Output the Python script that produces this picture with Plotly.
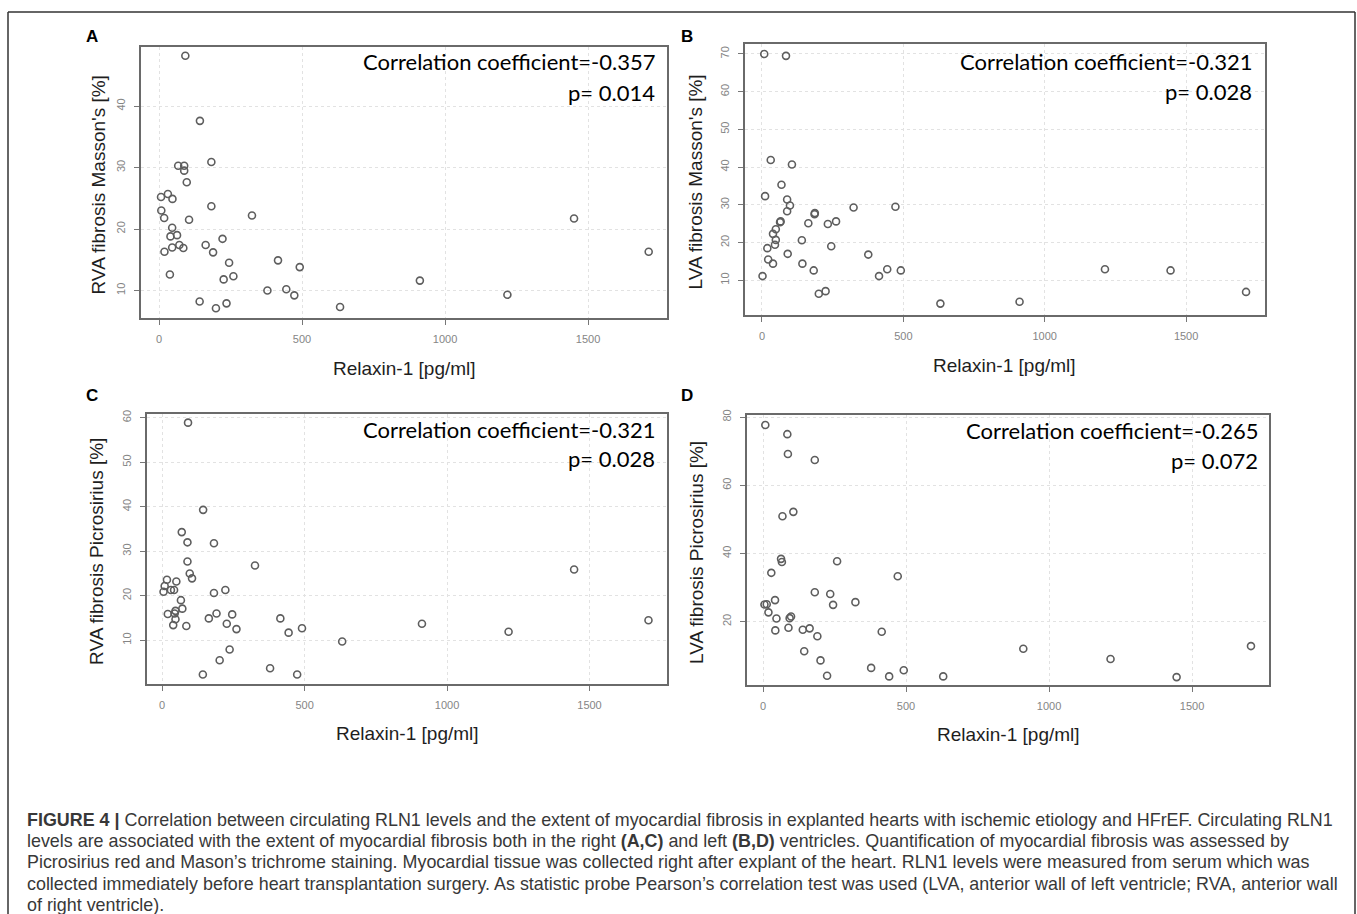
import plotly.graph_objects as go

W, H = 1357, 914

# ---------------- data ----------------
# Panel A: RVA fibrosis Masson's vs Relaxin-1
relaxin_a = [92, 143, 183, 67, 88, 88, 97, 7, 31, 47, 183, 8, 18, 105, 325, 1451, 46, 40, 63, 222,
             46, 71, 85, 19, 163, 189, 1712, 245, 416, 492, 38, 260, 226, 912, 379, 445, 473, 1218,
             142, 236, 199, 633]
rva_masson = [48.2, 37.6, 30.9, 30.3, 30.3, 29.5, 27.6, 25.2, 25.7, 24.9, 23.7, 23.0, 21.8, 21.5, 22.2,
              21.7, 20.2, 18.8, 19.0, 18.4, 17.0, 17.4, 16.9, 16.3, 17.4, 16.2, 16.3, 14.5, 14.9, 13.8,
              12.6, 12.3, 11.8, 11.6, 10.0, 10.2, 9.2, 9.3, 8.2, 7.9, 7.1, 7.3]

# Panel B: LVA fibrosis Masson's vs Relaxin-1
relaxin_b = [8, 85, 31, 106, 69, 11, 89, 99, 89, 324, 472, 187, 186, 66, 64, 262, 233, 164, 49, 39,
             49, 141, 46, 245, 19, 91, 376, 22, 39, 143, 183, 443, 491, 1213, 1445, 414, 2, 225, 201,
             1712, 911, 631]
lva_masson = [70.0, 69.5, 41.9, 40.7, 35.3, 32.3, 31.4, 29.8, 28.3, 29.3, 29.5, 27.8, 27.5, 25.6, 25.4,
              25.6, 24.9, 25.1, 23.5, 22.3, 20.7, 20.6, 19.4, 19.0, 18.5, 17.0, 16.8, 15.5, 14.4, 14.4,
              12.6, 12.9, 12.6, 12.9, 12.6, 11.1, 11.1, 7.1, 6.4, 6.9, 4.3, 3.8]

# Panel C: RVA fibrosis Picrosirius vs Relaxin-1
relaxin_c = [91, 144, 69, 89, 182, 89, 326, 1446, 97, 105, 17, 50, 9, 31, 42, 5, 222, 182, 66, 71,
             47, 44, 20, 191, 246, 164, 415, 1707, 47, 227, 912, 39, 85, 261, 491, 444, 1216, 632,
             237, 202, 379, 143, 474]
rva_picro = [58.9, 39.3, 34.3, 32.0, 31.8, 27.7, 26.8, 25.9, 25.0, 23.9, 23.6, 23.2, 22.2, 21.3, 21.3,
             20.9, 21.3, 20.6, 19.0, 17.1, 16.6, 16.0, 15.9, 16.0, 15.8, 14.9, 14.9, 14.5, 14.7, 13.7,
             13.7, 13.4, 13.2, 12.5, 12.7, 11.7, 11.9, 9.7, 7.9, 5.5, 3.7, 2.3, 2.3]

# Panel D: LVA fibrosis Picrosirius vs Relaxin-1
relaxin_d = [8, 85, 87, 181, 106, 68, 63, 66, 259, 29, 471, 181, 235, 323, 245, 13, 5, 42, 19, 47,
             98, 93, 89, 43, 139, 163, 415, 190, 144, 910, 1706, 1215, 201, 378, 492, 224, 441, 630,
             1446]
lva_picro = [77.7, 75.0, 69.2, 67.4, 52.2, 50.9, 38.4, 37.5, 37.7, 34.3, 33.3, 28.6, 28.1, 25.7, 24.9,
             25.1, 25.0, 26.3, 22.7, 20.9, 21.5, 21.0, 18.2, 17.4, 17.6, 18.0, 17.0, 15.7, 11.3, 12.0,
             12.8, 9.0, 8.6, 6.4, 5.7, 4.1, 3.9, 3.9, 3.7]

x_ticks = [0, 500, 1000, 1500]
y_ticks_a = [10, 20, 30, 40]
y_ticks_b = [10, 20, 30, 40, 50, 60, 70]
y_ticks_c = [10, 20, 30, 40, 50, 60]
y_ticks_d = [20, 40, 60, 80]

letters = ["A", "B", "C", "D"]
y_titles = ["RVA fibrosis Masson's [%]", "LVA fibrosis Masson's [%]",
            "RVA fibrosis Picrosirius [%]", "LVA fibrosis Picrosirius [%]"]
x_title = "Relaxin-1 [pg/ml]"
corr_texts = ["Correlation coefficient=-0.357", "Correlation coefficient=-0.321",
              "Correlation coefficient=-0.321", "Correlation coefficient=-0.265"]
p_texts = ["p= 0.014", "p= 0.028", "p= 0.028", "p= 0.072"]

caption_lines = [
    "<b>FIGURE 4 |</b> Correlation between circulating RLN1 levels and the extent of myocardial fibrosis in explanted hearts with ischemic etiology and HFrEF. Circulating RLN1",
    "levels are associated with the extent of myocardial fibrosis both in the right <b>(A,C)</b> and left <b>(B,D)</b> ventricles. Quantification of myocardial fibrosis was assessed by",
    "Picrosirius red and Mason\u2019s trichrome staining. Myocardial tissue was collected right after explant of the heart. RLN1 levels were measured from serum which was",
    "collected immediately before heart transplantation surgery. As statistic probe Pearson\u2019s correlation test was used (LVA, anterior wall of left ventricle; RVA, anterior wall",
    "of right ventricle).",
]

# ---------------- layout geometry (pixels) ----------------
panels = [
    dict(x=relaxin_a, y=rva_masson, box=(141, 667, 42, 315), xr=[-63, 1776], yr=[5.47, 49.66],
         yt=y_ticks_a, letter=(92, 32), ytx=99, corr=(657, 57, 88)),
    dict(x=relaxin_b, y=lva_masson, box=(745, 1265, 39, 312), xr=[-60, 1779], yr=[0.7, 72.7],
         yt=y_ticks_b, letter=(687, 32), ytx=696, corr=(1254, 57, 87)),
    dict(x=relaxin_c, y=rva_picro, box=(147, 667, 411, 683), xr=[-53, 1772], yr=[0.1, 60.9],
         yt=y_ticks_c, letter=(92, 393), ytx=97, corr=(657, 427, 456)),
    dict(x=relaxin_d, y=lva_picro, box=(747, 1269, 412, 684), xr=[-56, 1769], yr=[1.3, 80.7],
         yt=y_ticks_d, letter=(687, 393), ytx=697, corr=(1260, 428, 458)),
]


def px(v):
    return v / W


def py(v):
    return 1 - v / H


fig = go.Figure()
annotations = []
shapes = []
layout = {}

for i, p in enumerate(panels):
    n = "" if i == 0 else str(i + 1)
    xa, ya = "x" + n, "y" + n
    fig.add_trace(go.Scatter(
        x=p["x"], y=p["y"], mode="markers", xaxis=xa, yaxis=ya, showlegend=False,
        marker=dict(symbol="circle-open", size=7, color="#5e5e5e", line=dict(width=1.6)),
        hoverinfo="skip"))
    x0, x1, y0, y1 = p["box"]
    common = dict(showline=True, linecolor="#6a6a6a", linewidth=1.5, mirror=True,
                  ticks="outside", ticklen=5, tickcolor="#777777", tickwidth=1,
                  showgrid=True, gridcolor="#e2e2e2", griddash="dot", gridwidth=1,
                  zeroline=False, tickfont=dict(family="Liberation Sans, Arial", size=11, color="#858585"))
    layout["xaxis" + n] = dict(domain=[px(x0), px(x1)], range=p["xr"], anchor=ya,
                               tickvals=x_ticks, ticklabelstandoff=5, **common)
    layout["yaxis" + n] = dict(domain=[py(y1), py(y0)], range=p["yr"], anchor=xa,
                               tickvals=p["yt"], tickangle=-90, ticklabelstandoff=5, **common)
    # panel letter
    lx, ly = p["letter"]
    annotations.append(dict(x=px(lx), y=py(ly), xref="paper", yref="paper", text="<b>%s</b>" % letters[i],
                            showarrow=False, xanchor="center", yanchor="middle",
                            font=dict(family="Liberation Sans, Arial", size=17, color="#000000")))
    # y title
    annotations.append(dict(x=px(p["ytx"]), y=py((y0 + y1) / 2 + 3), xref="paper", yref="paper",
                            text=y_titles[i], textangle=-90, showarrow=False,
                            xanchor="center", yanchor="middle",
                            font=dict(family="Liberation Sans, Arial", size=19, color="#1e1e1e")))
    # x title
    annotations.append(dict(x=px((x0 + x1) / 2), y=py(y1 + 50), xref="paper", yref="paper",
                            text=x_title, showarrow=False, xanchor="center", yanchor="middle",
                            font=dict(family="Liberation Sans, Arial", size=19, color="#1e1e1e")))
    # correlation text
    cx, cy1, cy2 = p["corr"]
    for t, cy in ((corr_texts[i], cy1), (p_texts[i], cy2)):
        annotations.append(dict(x=px(cx), y=py(cy), xref="paper", yref="paper", text=t,
                                showarrow=False, xanchor="right", yanchor="middle",
                                font=dict(family="Lato, Open Sans", size=22, color="#000000")))

# caption
for k, line in enumerate(caption_lines):
    annotations.append(dict(x=px(25), y=py(819 + 21.5 * k), xref="paper", yref="paper", text=line,
                            showarrow=False, xanchor="left", yanchor="middle",
                            font=dict(family="Liberation Sans, Arial", size=17.9, color="#383838")))

# outer frame (open at the bottom edge of the picture)
frame = dict(type="line", xref="paper", yref="paper", line=dict(color="#333333", width=1.5))
shapes.append(dict(frame, x0=px(8), x1=px(1355), y0=py(7), y1=py(7)))
shapes.append(dict(frame, x0=px(8), x1=px(8), y0=py(7), y1=py(916)))
shapes.append(dict(frame, x0=px(1355), x1=px(1355), y0=py(7), y1=py(916)))

fig.update_layout(
    width=W, height=H, margin=dict(l=0, r=0, t=0, b=0),
    paper_bgcolor="white", plot_bgcolor="white",
    annotations=annotations, shapes=shapes, **layout)

fig.write_html("out.html", config={"displayModeBar": False},
               post_script="document.body.style.margin='0';document.body.style.overflow='hidden';")
